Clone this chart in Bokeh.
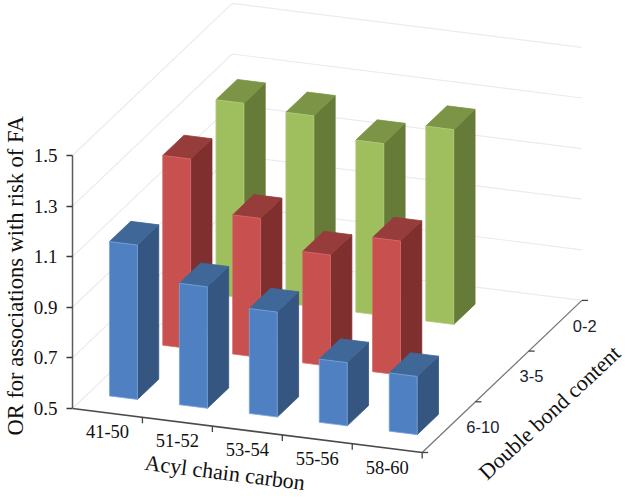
from bokeh.plotting import figure
from bokeh.models import Range1d, FixedTicker, Label, ColumnDataSource, NumeralTickFormatter, Title
from bokeh.embed import file_html
from bokeh.resources import INLINE

# --- data -----------------------------------------------------------------
categories = ["41-50", "51-52", "53-54", "55-56", "58-60"]
depth_labels = ["6-10", "3-5", "0-2"]
or_ticks = [0.5, 0.7, 0.9, 1.1, 1.3, 1.5]
blue_values = [1.11, 0.98, 0.915, 0.75, 0.73]       # 6-10
red_values = [1.25, 1.05, 0.94, 1.03, None]         # 3-5
green_values = [1.27, 1.255, 1.18, 1.27, None]      # 0-2

SERIF = "Liberation Serif"
SANS = "Liberation Sans"

# --- oblique projection: category u, depth v, OR value z -> plot coords -----
ORIGIN_X, ORIGIN_Y = 71.5, 408.0
UX, UY = 70.0, 8.8
VX, VY = 53.3, -50.7
PX_PER_OR = 253.0


def ry(py):
    return 0.5 + (ORIGIN_Y - py) / PX_PER_OR


def proj(u, v, z=0.5):
    return ORIGIN_X + UX * u + VX * v, z - (UY * u + VY * v) / PX_PER_OR


p = figure(width=625, height=499, output_backend="svg", toolbar_location=None,
           x_range=Range1d(ORIGIN_X, 625), y_range=Range1d(ry(499), ry(0)),
           min_border_left=int(ORIGIN_X), min_border_right=0, min_border_top=0,
           min_border_bottom=0, x_axis_type=None, tools="")
p.grid.visible = False
p.outline_line_color = None

# real value axis
ax = p.yaxis[0]
ax.ticker = FixedTicker(ticks=or_ticks)
ax.bounds = (or_ticks[0], or_ticks[-1])
ax.formatter = NumeralTickFormatter(format="0.0")
ax.major_tick_out = 6
ax.major_tick_in = 0
ax.minor_tick_line_color = None
ax.axis_line_color = "#5a5a5a"
ax.axis_line_width = 1.5
ax.major_tick_line_color = "#3a3a3a"
ax.major_tick_line_width = 1.5
ax.major_label_standoff = 9
ax.major_label_text_font = SERIF
ax.major_label_text_font_size = "19px"
ax.major_label_text_color = "#111111"
ax.axis_label = " "
ax.axis_label_standoff = -2
ax.axis_label_text_font_size = "1px"

# value-axis title lives in the left panel, outside the frame
p.add_layout(Title(text="OR for associations with risk of FA", align="left", offset=64, standoff=1,
                   text_font=SERIF, text_font_size="22.5px", text_font_style="normal",
                   text_color="#111111"), "left")

N_U, N_V = len(categories), len(depth_labels)

# walls' gridlines
gx, gy = [], []
for t in or_ticks:
    pts = [proj(0, 0, t), proj(0, N_V, t), proj(N_U, N_V, t)]
    gx.append([a for a, _ in pts])
    gy.append([b for _, b in pts])
p.multi_line(gx, gy, line_color="#eeeaeb", line_width=1.2)

# floor axes
ax_pts = [proj(0, 0), proj(N_U, 0)]
p.line([a for a, _ in ax_pts], [b for _, b in ax_pts], line_color="#4a4a4a", line_width=1.6)
dp_pts = [proj(N_U, 0), proj(N_U, N_V)]
p.line([a for a, _ in dp_pts], [b for _, b in dp_pts], line_color="#777777", line_width=1.3)

tx, ty = [], []
for i in range(1, N_U + 1):
    a, b = proj(i, 0)
    tx.append([a, a])
    ty.append([b, b - 6 / PX_PER_OR])
for j in range(0, N_V + 1):
    a, b = proj(N_U, j)
    tx.append([a, a + 6])
    ty.append([b, b])
p.multi_line(tx, ty, line_color="#444444", line_width=1.3)

# bars
BAR_START, BAR_SIZE = 0.3, 0.4
rows = {
    2: (green_values, ("#9fbe5d", "#677b38", "#7c9446", "#b4cc80")),
    1: (red_values, ("#c8504e", "#7e2f2e", "#963c3b", "#d56f6d")),
    0: (blue_values, ("#4f81c2", "#345680", "#3f6798", "#7ba6dc")),
}
xs, ys, fills, lines = [], [], [], []
for v_i in (2, 1, 0):
    values, (front, side, top, edge) = rows[v_i]
    for u_i, val in enumerate(values):
        if val is None:
            continue
        u0, u1 = u_i + BAR_START, u_i + BAR_START + BAR_SIZE
        v0, v1 = v_i + BAR_START, v_i + BAR_START + BAR_SIZE
        faces = [
            ([(u1, v0, 0.5), (u1, v1, 0.5), (u1, v1, val), (u1, v0, val)], side, side),
            ([(u0, v0, val), (u1, v0, val), (u1, v1, val), (u0, v1, val)], top, top),
            ([(u0, v0, 0.5), (u1, v0, 0.5), (u1, v0, val), (u0, v0, val)], front, edge),
        ]
        for corners, fc, lc in faces:
            pts = [proj(*c) for c in corners]
            xs.append([a for a, _ in pts])
            ys.append([b for _, b in pts])
            fills.append(fc)
            lines.append(lc)
p.patches("xs", "ys", source=ColumnDataSource(dict(xs=xs, ys=ys, fill=fills, line=lines)),
          fill_color="fill", line_color="line", line_width=0.8)

# category labels (follow the floor axis)
for i, c in enumerate(categories):
    a, b = proj(i + 0.5, 0)
    p.add_layout(Label(x=a, y=b, y_offset=-19, text=c, text_align="center", text_baseline="middle",
                       text_font=SERIF, text_font_size="18.5px", text_color="#111111"))
# depth labels
for j, c in enumerate(depth_labels):
    a, b = proj(N_U, j + 0.5)
    p.add_layout(Label(x=a, y=b, x_offset=17.5, text=c, text_align="left", text_baseline="middle",
                       text_font=SANS, text_font_size="16.5px", text_color="#1a2233"))

# floor titles
p.add_layout(Label(x=224, y=ry(472), text="Acyl chain carbon", angle=-7.2, angle_units="deg",
                   text_align="center", text_baseline="middle", text_font=SERIF,
                   text_font_size="22px", text_color="#111111"))
p.add_layout(Label(x=549, y=ry(412), text="Double bond content", angle=43, angle_units="deg",
                   text_align="center", text_baseline="middle", text_font=SERIF,
                   text_font_size="22px", text_color="#111111"))

open("out.html", "w").write(file_html(p, INLINE))
